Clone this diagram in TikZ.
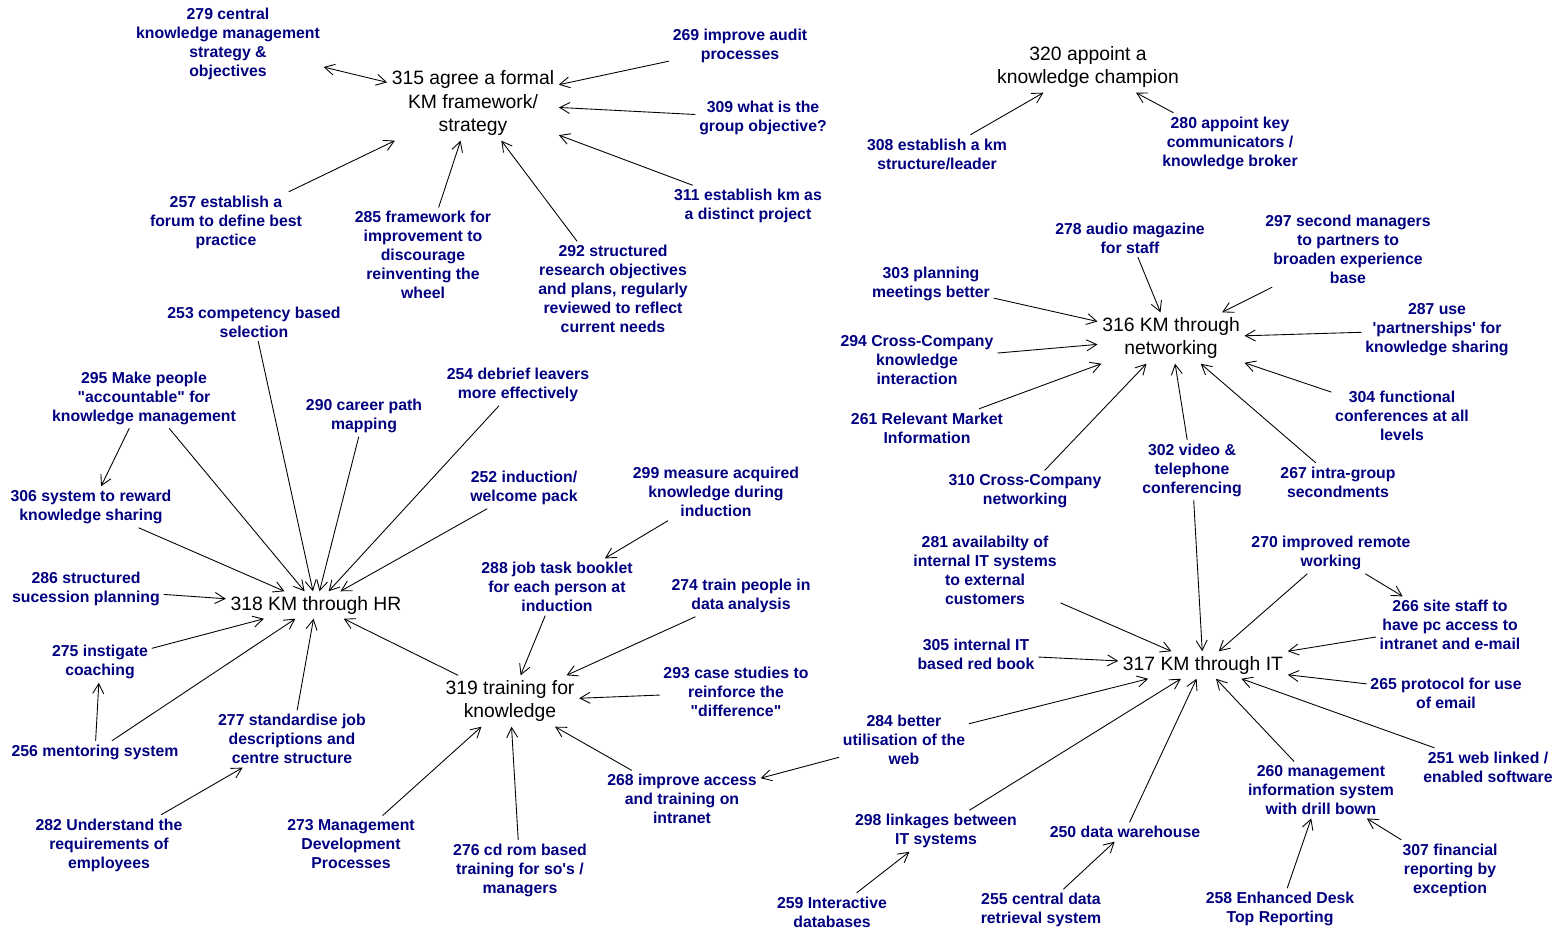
\documentclass[tikz,border=0pt]{standalone}
\usepackage{fontspec}
\setmainfont{Liberation Sans}[Ligatures=TeXOff]
\usetikzlibrary{arrows.meta}
\definecolor{ideablue}{RGB}{0,0,128}

\begin{document}
\begin{tikzpicture}[x=0.02cm, y=-0.02cm,
    hub/.style={align=center, font=\fontsize{11}{13.6}\selectfont, inner sep=2.5pt},
    idea/.style={align=center, text=ideablue, font=\fontsize{9}{10.8}\selectfont\bfseries, inner sep=2pt},
    link/.style={-{Straight Barb[length=2mm,width=2.2mm]}, line width=0.5pt},
    twolink/.style={{Straight Barb[length=2mm,width=2.2mm]}-{Straight Barb[length=2mm,width=2.2mm]}, line width=0.5pt}]
    \useasboundingbox (0,0) rectangle (1557,931);
    % Hubs
    \node[hub] (n315) at (473,103) {315 agree a formal\\KM framework/\\strategy};
    \node[hub] (n320) at (1088,67) {320 appoint a\\knowledge champion};
    \node[hub] (n316) at (1171,338) {316 KM through\\networking};
    \node[hub] (n318) at (316,605) {318 KM through HR};
    \node[hub] (n319) at (510,701) {319 training for\\knowledge};
    \node[hub] (n317) at (1203,665) {317 KM through IT};
    % Ideas round 315
    \node[idea] (n279) at (228,44) {279 central\\knowledge management\\strategy \&\\objectives};
    \node[idea] (n269) at (740,46) {269 improve audit\\processes};
    \node[idea] (n309) at (763,118) {309 what is the\\group objective?};
    \node[idea] (n311) at (748,206) {311 establish km as\\a distinct project};
    \node[idea] (n257) at (226,222) {257 establish a\\forum to define best\\practice};
    \node[idea] (n285) at (423,255) {285 framework for\\improvement to\\discourage\\reinventing the\\wheel};
    \node[idea] (n292) at (613,289) {292 structured\\research objectives\\and plans, regularly\\reviewed to reflect\\current needs};
    % Ideas round 320
    \node[idea] (n308) at (937,154) {308 establish a km\\structure/leader};
    \node[idea] (n280) at (1230,143) {280 appoint key\\communicators /\\knowledge broker};
    % Ideas round 316
    \node[idea] (n278) at (1130,238) {278 audio magazine\\for staff};
    \node[idea] (n297) at (1348,249) {297 second managers\\to partners to\\broaden experience\\base};
    \node[idea] (n303) at (931,284) {303 planning\\meetings better};
    \node[idea] (n287) at (1437,330) {287 use\\'partnerships' for\\knowledge sharing};
    \node[idea] (n294) at (917,360) {294 Cross-Company\\knowledge\\interaction};
    \node[idea] (n304) at (1402,416) {304 functional\\conferences at all\\levels};
    \node[idea] (n261) at (927,428) {261 Relevant Market\\Information};
    \node[idea] (n310) at (1025,491) {310 Cross-Company\\networking};
    \node[idea] (n302) at (1192,470) {302 video \&\\telephone\\conferencing};
    \node[idea] (n267) at (1338,482) {267 intra-group\\secondments};
    % Ideas round 318
    \node[idea] (n253) at (254,322) {253 competency based\\selection};
    \node[idea] (n295) at (144,398) {295 Make people\\"accountable" for\\knowledge management};
    \node[idea] (n290) at (364,416) {290 career path\\mapping};
    \node[idea] (n254) at (518,385) {254 debrief leavers\\more effectively};
    \node[idea] (n306) at (91,507) {306 system to reward\\knowledge sharing};
    \node[idea] (n252) at (524,488) {252 induction/\\welcome pack};
    \node[idea] (n286) at (86,589) {286 structured\\sucession planning};
    \node[idea] (n275) at (100,662) {275 instigate\\coaching};
    \node[idea] (n256) at (95,752) {256 mentoring system};
    \node[idea] (n277) at (292,739) {277 standardise job\\descriptions and\\centre structure};
    \node[idea] (n282) at (109,845) {282 Understand the\\requirements of\\employees};
    % Ideas round 319
    \node[idea] (n299) at (716,492) {299 measure acquired\\knowledge during\\induction};
    \node[idea] (n288) at (557,587) {288 job task booklet\\for each person at\\induction};
    \node[idea] (n274) at (741,596) {274 train people in\\data analysis};
    \node[idea] (n293) at (736,692) {293 case studies to\\reinforce the\\"difference"};
    \node[idea] (n273) at (351,844) {273 Management\\Development\\Processes};
    \node[idea] (n276) at (520,870) {276 cd rom based\\training for so's /\\managers};
    \node[idea] (n268) at (682,799) {268 improve access\\and training on\\intranet};
    % Ideas round 317
    \node[idea] (n281) at (985,570) {281 availabilty of\\internal IT systems\\to external\\customers};
    \node[idea] (n270) at (1331,553) {270 improved remote\\working};
    \node[idea] (n266) at (1450,625) {266 site staff to\\have pc access to\\intranet and e-mail};
    \node[idea] (n305) at (976,654) {305 internal IT\\based red book};
    \node[idea] (n265) at (1446,693) {265 protocol for use\\of email};
    \node[idea] (n284) at (904,740) {284 better\\utilisation of the\\web};
    \node[idea] (n251) at (1488,767) {251 web linked /\\enabled software};
    \node[idea] (n260) at (1321,790) {260 management\\information system\\with drill bown};
    \node[idea] (n298) at (936,831) {298 linkages between\\IT systems};
    \node[idea] (n250) at (1125,832) {250 data warehouse};
    \node[idea] (n307) at (1450,870) {307 financial\\reporting by\\exception};
    \node[idea] (n259) at (832,912) {259 Interactive\\databases};
    \node[idea] (n255) at (1041,910) {255 central data\\retrieval system};
    \node[idea] (n258) at (1280,909) {258 Enhanced Desk\\Top Reporting};
    % Links to 315
    \draw[twolink] (n279) -- (n315);
    \draw[link] (n269) -- (n315);
    \draw[link] (n309) -- (n315);
    \draw[link] (n311) -- (n315);
    \draw[link] (n257) -- (n315);
    \draw[link] (n285) -- (n315);
    \draw[link] (n292) -- (n315);
    % Links to 320
    \draw[link] (n308) -- (n320);
    \draw[link] (n280) -- (n320);
    % Links to 316
    \draw[link] (n278) -- (n316);
    \draw[link] (n297) -- (n316);
    \draw[link] (n303) -- (n316);
    \draw[link] (n294) -- (n316);
    \draw[link] (n261) -- (n316);
    \draw[link] (n310) -- (n316);
    \draw[link] (n302) -- (n316);
    \draw[link] (n267) -- (n316);
    \draw[link] (n287) -- (n316);
    \draw[link] (n304) -- (n316);
    % Links to 318
    \draw[link] (n253) -- (n318);
    \draw[link] (n295) -- (n318);
    \draw[link] (n295) -- (n306);
    \draw[link] (n290) -- (n318);
    \draw[link] (n254) -- (n318);
    \draw[link] (n306) -- (n318);
    \draw[link] (n252) -- (n318);
    \draw[link] (n286) -- (n318);
    \draw[link] (n275) -- (n318);
    \draw[link] (n256) -- (n318);
    \draw[link] (n256) -- (n275);
    \draw[link] (n277) -- (n318);
    \draw[link] (n282) -- (n277);
    \draw[link] (n319) -- (n318);
    % Links to 319
    \draw[link] (n299) -- (n288);
    \draw[link] (n288) -- (n319);
    \draw[link] (n274) -- (n319);
    \draw[link] (n293) -- (n319);
    \draw[link] (n273) -- (n319);
    \draw[link] (n276) -- (n319);
    \draw[link] (n268) -- (n319);
    \draw[link] (n284) -- (n268);
    % Links to 317
    \draw[link] (n302) -- (n317);
    \draw[link] (n281) -- (n317);
    \draw[link] (n270) -- (n317);
    \draw[link] (n270) -- (n266);
    \draw[link] (n266) -- (n317);
    \draw[link] (n305) -- (n317);
    \draw[link] (n265) -- (n317);
    \draw[link] (n284) -- (n317);
    \draw[link] (n251) -- (n317);
    \draw[link] (n260) -- (n317);
    \draw[link] (n298) -- (n317);
    \draw[link] (n250) -- (n317);
    \draw[link] (n258) -- (n260);
    \draw[link] (n307) -- (n260);
    \draw[link] (n255) -- (n250);
    \draw[link] (n259) -- (n298);
\end{tikzpicture}
\end{document}
